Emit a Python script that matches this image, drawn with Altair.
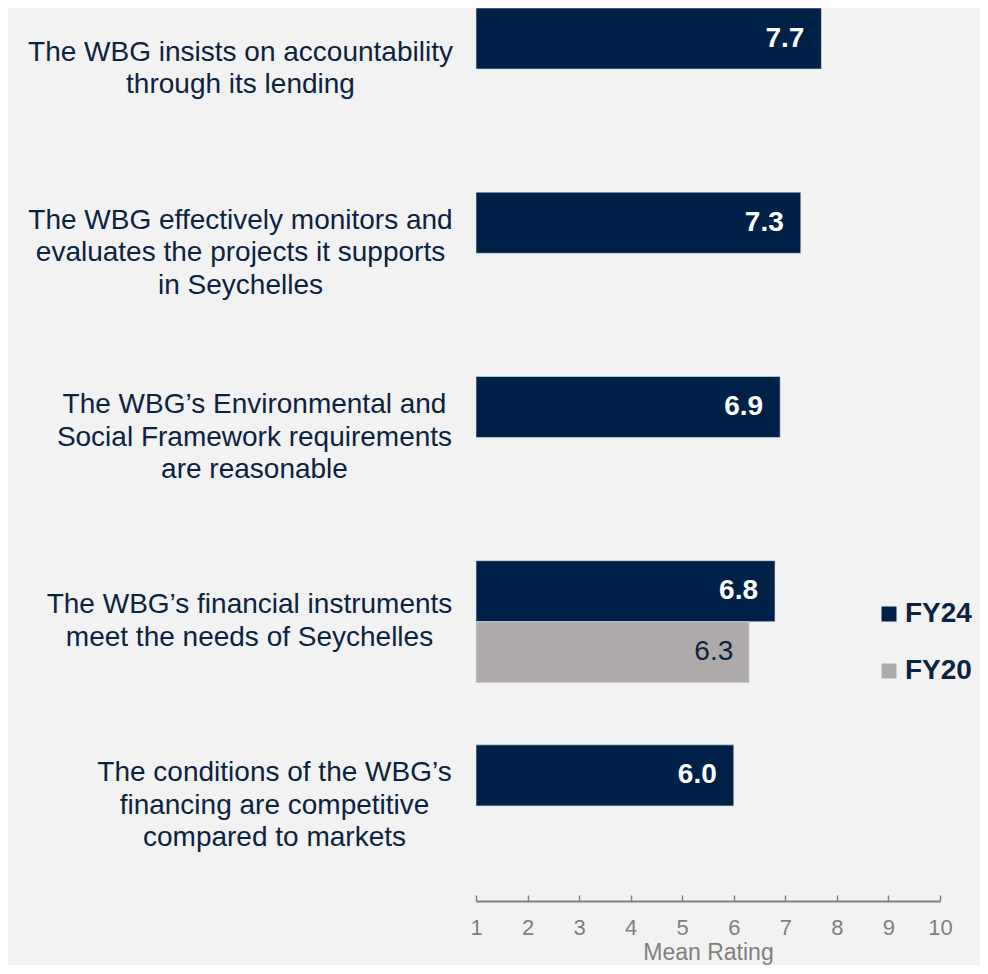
import altair as alt
import pandas as pd

categories = [
    "The WBG insists on accountability\nthrough its lending",
    "The WBG effectively monitors and\nevaluates the projects it supports\nin Seychelles",
    "The WBG’s Environmental and\nSocial Framework requirements\nare reasonable",
    "The WBG’s financial instruments\nmeet the needs of Seychelles",
    "The conditions of the WBG’s\nfinancing are competitive\ncompared to markets",
]
fy24_values = [7.7, 7.3, 6.9, 6.8, 6.0]
fy20_categories = [categories[3]]
fy20_values = [6.3]
series = ["FY24", "FY20"]
colors = ["#002147", "#aeaaaa"]
tick_values = list(range(1, 11))

rows = [{"category": c, "series": "FY24", "value": v} for c, v in zip(categories, fy24_values)]
rows += [{"category": c, "series": "FY20", "value": v} for c, v in zip(fy20_categories, fy20_values)]
df = pd.DataFrame(rows)

FONT = "Liberation Sans"
NAVY = "#0c2340"
GRAY = "#7f7f7f"
W, H = 464, 859
LINE_H = 32.5

label_padding = {
    "condition": [
        {"test": "indexof(datum.value, 'conditions') >= 0", "value": 202},
        {"test": "indexof(datum.value, 'Environmental') >= 0", "value": 222},
        {"test": "indexof(datum.value, 'instruments') >= 0", "value": 227},
    ],
    "value": 236,
}
label_offset = {
    "condition": [
        {"test": "length(split(datum.value, '\\n')) == 3", "value": -LINE_H},
    ],
    "value": -LINE_H / 2,
}

y_enc = alt.Y(
    "category:N",
    sort=categories,
    scale=alt.Scale(paddingInner=0.337, paddingOuter=0),
    axis=alt.Axis(
        title=None, domain=False, ticks=False, tickSize=0,
        labelExpr="split(datum.label, '\\n')",
        labelAlign="center", labelBaseline="middle",
        labelPadding=label_padding, labelOffset=label_offset,
        labelFont=FONT, labelFontSize=28, labelColor=NAVY,
        labelLineHeight=LINE_H, labelLimit=600,
    ),
)
yoff = alt.YOffset("series:N", sort=series, scale=alt.Scale(domain=series, paddingInner=0, paddingOuter=0))

x_enc = alt.X(
    "value:Q",
    scale=alt.Scale(domain=[1, 10], nice=False, zero=False),
    axis=alt.Axis(
        values=tick_values, title="Mean Rating", offset=34,
        tickSize={"expr": "-6"}, tickColor="#808080", tickWidth=1.5,
        domainColor="#808080", domainWidth=2,
        grid=False, labelPadding=22, labelFlush=False,
        labelFont=FONT, labelFontSize=22, labelColor=GRAY, labelFontWeight="normal",
        titleFont=FONT, titleFontSize=23, titleColor=GRAY, titleFontWeight="normal",
        titlePadding=3,
    ),
)

base = alt.Chart(df)

bars = base.mark_bar(stroke="#dfe3ea", strokeWidth=0.6).encode(
    x=x_enc,
    x2=alt.datum(1),
    y=y_enc,
    yOffset=yoff,
    color=alt.Color(
        "series:N",
        scale=alt.Scale(domain=series, range=colors),
        legend=alt.Legend(
            orient="none", legendX=399, legendY=592, title=None,
            symbolType="square", symbolSize=225, symbolStrokeWidth=0,
            labelFont=FONT, labelFontSize=28, labelFontWeight="bold", labelColor=NAVY,
            rowPadding=29, labelOffset=2, padding=0,
        ),
    ),
)

labels24 = base.transform_filter(alt.datum.series == "FY24").mark_text(
    align="right", baseline="middle", dx=-17, font=FONT, fontSize=28,
    fontWeight="bold", color="white",
).encode(x="value:Q", y=alt.Y("category:N", sort=categories), yOffset=yoff, text=alt.Text("value:Q", format=".1f"))

labels20 = base.transform_filter(alt.datum.series == "FY20").mark_text(
    align="right", baseline="middle", dx=-16, font=FONT, fontSize=28,
    fontWeight="normal", color=NAVY,
).encode(x="value:Q", y=alt.Y("category:N", sort=categories), yOffset=yoff, text=alt.Text("value:Q", format=".1f"))

chart = alt.layer(bars, labels24, labels20).properties(
    width=W, height=H,
    autosize=alt.AutoSizeParams(type="none"),
    padding={"left": 468, "top": 0, "right": 40, "bottom": 98},
    background="#f2f2f2",
).configure_view(stroke=None)

chart.save("out.html", embed_options={"renderer": "svg", "actions": False})
